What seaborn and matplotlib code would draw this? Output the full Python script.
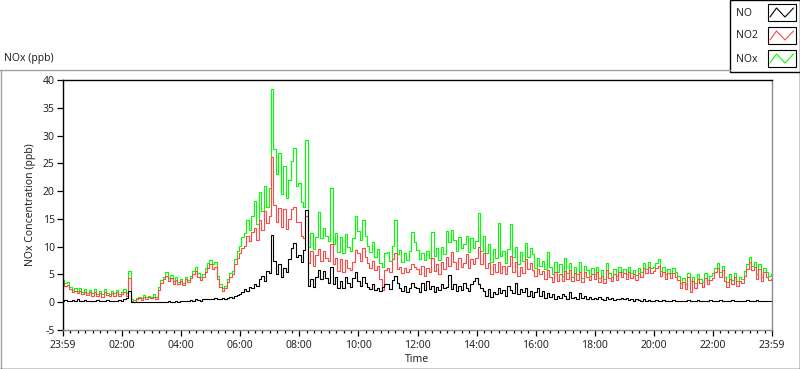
import matplotlib
matplotlib.use("Agg")
import matplotlib.pyplot as plt
import seaborn as sns
import pandas as pd
import numpy as np
from matplotlib.lines import Line2D
from matplotlib.patches import Rectangle

# 5-minute readings, 23:59 -> 23:59 (one row per hour)
nox = [
    4.0, 3.4, 3.6, 2.8, 2.2, 2.6, 2.1, 2.5, 1.9, 2.4, 1.7, 2.2,
    1.6, 2.3, 1.5, 2.0, 1.4, 2.4, 1.7, 1.5, 2.1, 1.6, 2.2, 1.5,
    1.8, 2.4, 1.6, 5.6, 0.6, 0.4, 0.8, 1.0, 0.7, 1.3, 0.9, 1.2,
    1.0, 1.4, 0.9, 2.7, 4.0, 4.6, 5.4, 4.3, 4.9, 3.8, 4.5, 3.6,
    4.2, 3.5, 4.6, 4.0, 4.8, 5.6, 6.3, 5.2, 4.5, 5.0, 6.2, 7.0,
    7.6, 6.8, 7.2, 4.8, 3.2, 2.6, 3.0, 4.2, 5.2, 5.6, 7.8, 9.2,
    10.2, 11.8, 12.5, 14.8, 13.0, 15.5, 18.2, 14.0, 19.8, 16.5, 21.0, 17.2,
    20.5, 38.4, 27.5, 23.0, 26.8, 19.5, 24.5, 18.8, 22.0, 25.5, 27.8, 21.0,
    21.5, 18.0, 17.2, 29.2, 10.0, 12.5, 9.6, 11.8, 16.2, 11.5, 13.4, 12.0,
    11.0, 20.5, 10.5, 12.4, 9.0, 11.8, 8.8, 12.2, 10.0, 9.2, 11.5, 15.5,
    12.8, 11.2, 14.8, 12.0, 10.2, 9.0, 10.8, 8.2, 9.6, 7.0, 6.4, 8.8,
    9.0, 7.5, 10.2, 14.8, 8.6, 9.4, 7.2, 8.8, 7.6, 9.2, 12.6, 10.8,
    9.4, 7.8, 8.8, 7.6, 9.2, 8.0, 12.7, 8.4, 9.8, 7.6, 10.0, 8.6,
    12.8, 10.8, 13.0, 11.2, 9.2, 11.8, 9.8, 10.5, 12.0, 9.0, 11.5, 9.8,
    11.0, 16.1, 9.2, 12.0, 8.8, 10.4, 7.2, 9.6, 8.0, 14.3, 8.4, 9.2,
    7.0, 9.6, 14.0, 8.2, 10.0, 6.8, 9.0, 7.4, 10.6, 8.2, 9.8, 8.6,
    6.2, 8.0, 6.6, 7.4, 5.9, 9.0, 6.4, 5.0, 7.3, 5.4, 6.8, 4.8,
    7.9, 5.2, 7.0, 4.6, 6.4, 5.0, 7.2, 4.4, 6.6, 5.8, 4.8, 6.2,
    5.0, 6.3, 4.4, 5.8, 4.2, 7.0, 5.2, 4.6, 6.0, 4.8, 6.4, 5.4,
    6.0, 5.0, 6.3, 5.2, 5.8, 4.9, 6.2, 5.4, 7.0, 6.0, 7.2, 6.1,
    6.4, 7.0, 7.8, 5.6, 6.3, 5.0, 6.0, 5.2, 6.2, 5.4, 4.8, 3.4,
    4.4, 3.2, 5.3, 3.8, 4.6, 3.4, 5.0, 4.2, 3.6, 5.2, 4.0, 4.8,
    5.2, 6.2, 7.0, 5.4, 6.6, 4.6, 3.6, 5.0, 4.0, 5.3, 3.8, 4.6,
    4.2, 5.6, 6.8, 8.1, 6.6, 7.2, 5.0, 6.8, 4.6, 6.2, 5.4, 4.8, 5.0,
]
no2 = [
    3.6, 3.0, 3.1, 2.4, 1.8, 2.1, 1.7, 2.0, 1.5, 1.9, 1.3, 1.8,
    1.2, 1.8, 1.1, 1.6, 1.0, 1.9, 1.3, 1.1, 1.7, 1.2, 1.8, 1.1,
    1.4, 1.9, 1.2, 4.4, 0.3, 0.1, 0.5, 0.7, 0.4, 1.0, 0.6, 0.9,
    0.7, 1.0, 0.6, 2.2, 3.5, 4.1, 4.7, 3.8, 4.4, 3.3, 4.0, 3.2,
    3.8, 3.1, 4.1, 3.6, 4.3, 5.0, 5.6, 4.6, 4.0, 4.5, 5.5, 6.2,
    6.8, 6.0, 6.4, 4.2, 2.7, 2.1, 2.5, 3.6, 4.6, 5.0, 6.8, 8.0,
    8.8, 9.8, 10.2, 12.0, 11.0, 12.6, 13.4, 11.2, 14.8, 13.0, 16.5, 14.2,
    15.5, 26.2, 17.5, 14.5, 17.0, 13.5, 16.8, 13.2, 15.0, 16.8, 17.2, 14.5,
    14.5, 12.0, 11.5, 15.5, 7.0, 9.2, 6.6, 8.5, 9.5, 7.4, 9.2, 8.0,
    7.5, 10.5, 6.8, 8.0, 5.6, 7.8, 5.5, 7.6, 6.2, 5.8, 7.2, 9.4,
    8.8, 7.5, 9.8, 8.2, 7.0, 6.2, 7.4, 5.8, 6.6, 4.2, 2.2, 5.8,
    6.2, 5.5, 7.8, 8.8, 6.0, 6.3, 5.3, 6.1, 5.4, 6.0, 6.8, 6.4,
    6.0, 5.0, 6.6, 4.8, 6.2, 5.4, 7.9, 5.6, 6.8, 5.0, 7.2, 6.0,
    8.2, 6.5, 9.0, 7.2, 6.0, 8.0, 6.4, 7.0, 8.6, 6.1, 7.8, 6.8,
    8.0, 10.0, 6.8, 8.8, 6.2, 7.0, 5.0, 6.8, 5.4, 7.3, 5.2, 6.6,
    5.0, 6.6, 8.4, 5.4, 7.2, 4.8, 6.4, 5.2, 7.8, 6.0, 7.0, 5.8,
    4.8, 6.0, 5.0, 5.6, 4.2, 5.8, 4.6, 3.6, 5.4, 3.8, 5.0, 3.8,
    5.6, 4.2, 5.8, 3.8, 5.2, 4.0, 5.4, 3.6, 5.4, 4.6, 4.0, 5.0,
    4.2, 5.4, 3.6, 4.8, 3.4, 5.8, 4.4, 3.8, 5.0, 4.0, 5.4, 4.6,
    5.2, 4.2, 5.5, 4.4, 5.0, 4.0, 5.2, 4.6, 6.2, 5.2, 6.4, 5.2,
    5.6, 6.2, 6.6, 4.8, 5.4, 4.2, 5.2, 4.4, 5.3, 4.6, 4.0, 2.6,
    3.6, 2.4, 4.5, 1.9, 3.8, 2.6, 4.2, 3.4, 2.8, 4.4, 3.2, 4.0,
    4.4, 5.4, 6.2, 4.6, 5.8, 3.8, 2.8, 4.2, 3.2, 4.5, 3.0, 3.8,
    3.4, 4.8, 6.0, 7.2, 5.8, 6.4, 4.2, 6.0, 3.8, 5.4, 4.6, 4.0, 4.2,
]
no = [
    0.3, 0.4, 0.3, 0.2, 0.4, 0.3, 0.5, 0.3, 0.2, 0.4, 0.3, 0.3,
    0.3, 0.2, 0.4, 0.3, 0.2, 0.3, 0.4, 0.2, 0.3, 0.3, 0.2, 0.4,
    0.3, 0.6, 0.8, 2.0, 0.1, 0.0, 0.1, 0.0, 0.1, 0.0, 0.1, 0.0,
    0.1, 0.0, 0.1, 0.1, 0.0, 0.1, 0.1, 0.2, 0.1, 0.1, 0.2, 0.1,
    0.2, 0.3, 0.2, 0.3, 0.4, 0.3, 0.5, 0.4, 0.3, 0.5, 0.6, 0.5,
    0.6, 0.5, 0.7, 0.6, 0.5, 0.7, 0.6, 0.8, 0.9, 0.8, 1.1, 1.3,
    1.5, 1.8, 2.4, 2.0, 2.8, 2.5, 3.2, 2.9, 4.2, 4.8, 3.9, 5.6,
    5.2, 12.1, 7.5, 5.0, 6.8, 4.6, 6.2, 5.5, 7.8, 9.8, 10.6, 8.2,
    8.5, 7.2, 9.4, 16.6, 3.0, 4.2, 2.8, 4.5, 5.8, 4.2, 5.6, 4.4,
    3.5, 6.3, 3.2, 4.5, 2.5, 3.8, 2.6, 4.6, 3.4, 2.8, 4.3, 5.5,
    3.8, 3.0, 4.6, 3.4, 2.8, 2.4, 3.2, 2.2, 2.6, 2.0, 2.8, 3.2,
    3.2, 2.4, 4.0, 4.8, 3.4, 2.6, 2.0, 2.9, 1.8, 2.6, 3.4, 2.8,
    2.6, 1.8, 3.4, 2.2, 3.8, 2.4, 3.0, 1.9, 2.8, 2.2, 3.2, 2.5,
    2.8, 4.9, 2.4, 3.2, 2.0, 3.0, 2.2, 3.4, 2.6, 2.1, 3.2, 3.8,
    4.4, 3.2, 2.6, 2.0, 1.2, 2.4, 1.0, 1.8, 1.4, 2.6, 1.6, 2.2,
    1.2, 3.0, 2.2, 1.6, 3.5, 1.4, 2.4, 1.8, 2.6, 1.2, 2.0, 1.0,
    1.8, 2.6, 1.2, 2.0, 0.8, 1.6, 1.0, 1.4, 0.6, 1.2, 0.8, 1.5,
    1.2, 0.6, 1.8, 0.8, 1.0, 0.5, 1.6, 0.7, 1.2, 0.6, 0.9, 0.5,
    0.8, 0.5, 1.0, 0.6, 0.4, 0.9, 0.5, 0.7, 0.4, 0.6, 0.5, 0.8,
    0.6, 0.8, 0.4, 0.5, 0.3, 0.6, 0.4, 0.3, 0.5, 0.2, 0.4, 0.3,
    0.3, 0.4, 0.2, 0.3, 0.4, 0.2, 0.3, 0.2, 0.4, 0.3, 0.2, 0.3,
    0.3, 0.2, 0.4, 0.3, 0.2, 0.3, 0.4, 0.2, 0.3, 0.3, 0.2, 0.4,
    0.2, 0.3, 0.2, 0.4, 0.3, 0.2, 0.3, 0.2, 0.4, 0.3, 0.2, 0.3,
    0.3, 0.2, 0.4, 0.3, 0.2, 0.3, 0.4, 0.2, 0.3, 0.2, 0.3, 0.2, 0.2,
]
minutes = list(range(0, 1441, 5))
hours = [m / 60 for m in minutes]

tick_labels = ["23:59", "02:00", "04:00", "06:00", "08:00", "10:00", "12:00",
               "14:00", "16:00", "18:00", "20:00", "22:00", "23:59"]
series_names = ["NOx", "NO2", "NO"]
colors = {"NOx": "#00ff00", "NO2": "#ff4848", "NO": "#000000"}

sns.set_style("ticks")
plt.rcParams["font.family"] = ["Noto Sans", "DejaVu Sans"]
plt.rcParams["axes.unicode_minus"] = False

n = len(hours)
df = pd.DataFrame({
    "hours": hours * 3,
    "value": nox + no2 + no,
    "series": ["NOx"] * n + ["NO2"] * n + ["NO"] * n,
})

W, H = 800, 369
fig = plt.figure(figsize=(8, 3.69), dpi=100)
ax = fig.add_axes([63 / W, 39 / H, 709 / W, 250 / H])

sns.lineplot(data=df, x="hours", y="value", hue="series", hue_order=series_names,
             palette=colors, estimator=None, sort=False, lw=0.8, legend=False,
             drawstyle="steps-mid", ax=ax)

ax.set_xlim(0, 24)
ax.set_ylim(-5, 40)
ax.set_yticks(range(-5, 41, 5))
ax.set_xticks(range(0, 25, 2))
ax.set_xticklabels(tick_labels)
ax.set_xticks(np.arange(0, 24.01, 0.25), minor=True)
ax.tick_params(axis="both", which="major", labelsize=7.5, length=4, width=0.9,
               color="black", pad=2)
ax.tick_params(axis="x", which="minor", length=2.5, width=0.9, color="black")
ax.tick_params(axis="x", which="major", pad=3)

ax.set_xlabel("Time", fontsize=7.5)
ax.set_ylabel("NOx Concentration (ppb)", fontsize=7.5)
ax.xaxis.set_label_coords(0.5, -0.096)
ax.yaxis.set_label_coords(-0.038, 0.5)

for side in ["left", "top"]:
    ax.spines[side].set_color("black")
    ax.spines[side].set_linewidth(1.0)
for side in ["right", "bottom"]:
    ax.spines[side].set_color("#8a8a8a")
    ax.spines[side].set_linewidth(1.0)


def px_line(xs, ys, color, lw=1.0):
    fig.add_artist(Line2D([x / W for x in xs], [1 - y / H for y in ys],
                          transform=fig.transFigure, color=color, lw=lw))


# outer panel frame
px_line([0, 730], [69.5, 69.5], "#a0a0a0")
px_line([0.5, 0.5], [69.5, 368], "#a0a0a0")
px_line([0, 800], [368.5, 368.5], "black")
px_line([799.5, 799.5], [72, 368.5], "black")

fig.text(4 / W, 1 - 58 / H, "NOx (ppb)", fontsize=7.5, va="center", ha="left")

# legend box in the corner
fig.add_artist(Rectangle((730 / W, 1 - 72 / H), 69.5 / W, 72 / H,
                         transform=fig.transFigure, facecolor="white",
                         edgecolor="black", lw=1.0))
legend_rows = [("NO", 14, 4), ("NO2", 36, 27), ("NOx", 59, 50)]
for name, ty, box_top in legend_rows:
    fig.text(736 / W, 1 - ty / H, name, fontsize=7.5, va="center", ha="left")
    fig.add_artist(Rectangle((767.5 / W, 1 - (box_top + 17) / H), 28 / W, 17 / H,
                             transform=fig.transFigure, facecolor="white",
                             edgecolor="black", lw=0.8))
    px_line([770, 776.5, 785, 793.5],
            [box_top + 13, box_top + 4, box_top + 13, box_top + 4],
            colors[name], lw=0.8)

fig.savefig("out.png", dpi=100)
